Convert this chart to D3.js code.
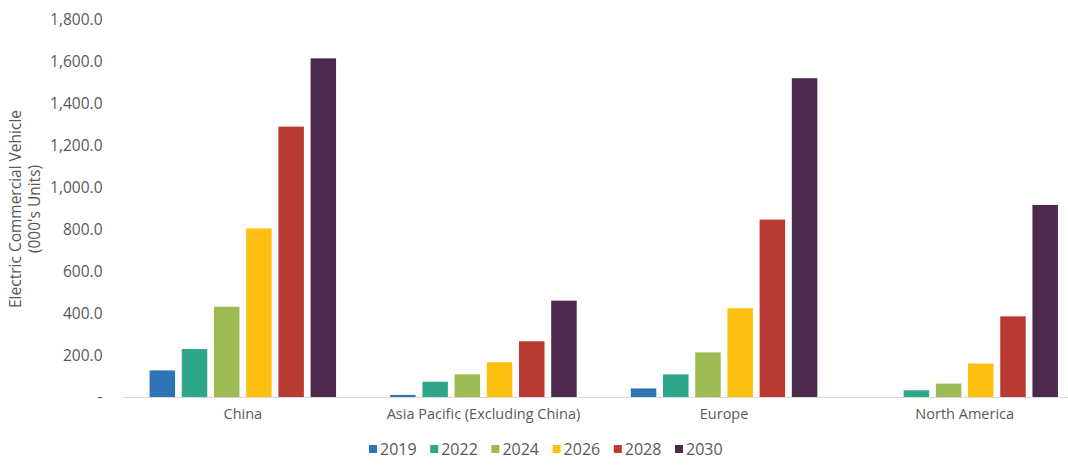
<!DOCTYPE html>
<html>
<head>
<meta charset="utf-8">
<script src="https://cdn.jsdelivr.net/npm/d3@7"></script>
<style>
  body { margin: 0; background: #fff; }
  text { font-family: "Open Sans", "Liberation Sans", sans-serif; fill: #595959; }
</style>
</head>
<body>
<div id="viz"></div>
<script>
// chart data
var regions = ["China", "Asia Pacific (Excluding China)", "Europe", "North America"];
var years = ["2019", "2022", "2024", "2026", "2028", "2030"];
var v2019 = [127, 10, 41, 0];
var v2022 = [229, 73, 108, 32];
var v2024 = [431, 108, 213, 64];
var v2026 = [805, 166, 424, 160];
var v2028 = [1291, 266, 847, 385];
var v2030 = [1617, 460, 1522, 917];
var yTicks = [0, 200, 400, 600, 800, 1000, 1200, 1400, 1600, 1800];
var colors = ["#2f75b5", "#2ea68b", "#9cbb52", "#fdc010", "#b93a32", "#4c2a4d"];

var series = [v2019, v2022, v2024, v2026, v2028, v2030];
var width = 1068, height = 473;
// plot edges (note: "top" is a reserved window name, so use plot* names)
var plotLeft = 122.5, plotRight = 1085, plotTop = 20, plotBottom = 397;

var svg = d3.select("#viz")
  .append("svg")
    .attr("width", width)
    .attr("height", height);

var x0 = d3.scaleBand().domain(regions).range([plotLeft, plotRight]);
var x1 = d3.scaleBand().domain(years).range([0, x0.bandwidth()])
  .paddingInner(0.208).paddingOuter(0.84);
var y = d3.scaleLinear().domain([0, 1800]).range([plotBottom, plotTop]);

var fmt = d3.format(",.1f");

// y axis labels (no line)
var yAxis = svg.append("g")
  .attr("transform", "translate(" + (plotLeft - 17) + ",0)")
  .call(d3.axisLeft(y).tickValues(yTicks).tickSize(0)
    .tickFormat(function (d) { return d === 0 ? "-" : fmt(d); }));
yAxis.select(".domain").remove();
yAxis.selectAll("text")
  .style("font-size", "15.5px")
  .style("fill", "#595959")
  .style("font-family", "\"Open Sans\", sans-serif");

// bars
var groups = svg.selectAll("g.region")
  .data(regions)
  .enter()
  .append("g")
    .attr("class", "region")
    .attr("transform", function (d) { return "translate(" + x0(d) + ",0)"; });

groups.selectAll("rect")
  .data(function (d, i) { return years.map(function (yr, j) { return { year: yr, value: series[j][i], k: j }; }); })
  .enter()
  .append("rect")
    .attr("x", function (d) { return x1(d.year); })
    .attr("y", function (d) { return y(d.value); })
    .attr("width", x1.bandwidth())
    .attr("height", function (d) { return y(0) - y(d.value); })
    .attr("fill", function (d) { return colors[d.k]; });

// baseline
svg.append("line")
  .attr("x1", plotLeft).attr("x2", width)
  .attr("y1", y(0) + 0.5).attr("y2", y(0) + 0.5)
  .style("stroke", "#d9d9d9")
  .style("stroke-width", 1.2);

// x labels
var xAxis = svg.append("g")
  .attr("transform", "translate(0," + y(0) + ")")
  .call(d3.axisBottom(x0).tickSize(0).tickPadding(12));
xAxis.select(".domain").remove();
xAxis.selectAll("text")
  .style("font-size", "14.5px")
  .style("fill", "#595959")
  .style("font-family", "\"Open Sans\", sans-serif");

// y title
var title = svg.append("text")
  .attr("transform", "translate(21,209) rotate(-90)")
  .attr("text-anchor", "middle")
  .style("font-size", "15.5px");
title.append("tspan").attr("x", 0).attr("dy", 0).text("Electric Commercial Vehicle");
title.append("tspan").attr("x", 0).attr("dy", 19).text("(000's Units)");

// legend
var legend = svg.selectAll("g.legend")
  .data(years)
  .enter()
  .append("g")
    .attr("class", "legend")
    .attr("transform", function (d, i) { return "translate(" + (369 + i * 61.2) + ",449)"; });
legend.append("rect")
  .attr("x", 0).attr("y", -4)
  .attr("width", 8).attr("height", 8)
  .attr("fill", function (d, i) { return colors[i]; });
legend.append("text")
  .attr("x", 11).attr("dy", "0.35em")
  .style("font-size", "16px")
  .text(function (d) { return d; });
</script>
</body>
</html>
